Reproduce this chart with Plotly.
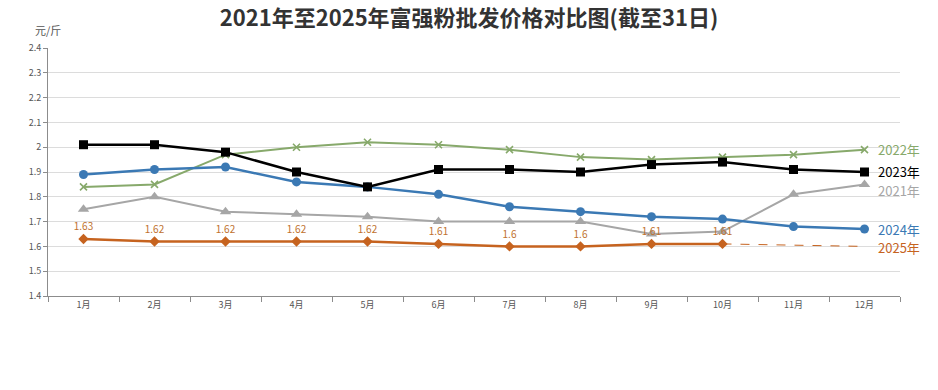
import plotly.graph_objects as go

months = ["1月", "2月", "3月", "4月", "5月", "6月", "7月", "8月", "9月", "10月", "11月", "12月"]
y2021 = [1.75, 1.80, 1.74, 1.73, 1.72, 1.70, 1.70, 1.70, 1.65, 1.66, 1.81, 1.85]
y2022 = [1.84, 1.85, 1.97, 2.00, 2.02, 2.01, 1.99, 1.96, 1.95, 1.96, 1.97, 1.99]
y2023 = [2.01, 2.01, 1.98, 1.90, 1.84, 1.91, 1.91, 1.90, 1.93, 1.94, 1.91, 1.90]
y2024 = [1.89, 1.91, 1.92, 1.86, 1.84, 1.81, 1.76, 1.74, 1.72, 1.71, 1.68, 1.67]
y2025 = [1.63, 1.62, 1.62, 1.62, 1.62, 1.61, 1.60, 1.60, 1.61, 1.61]
y2025_ext_months = ["10月", "12月"]
y2025_ext = [1.61, 1.60]
labels2025 = ["1.63", "1.62", "1.62", "1.62", "1.62", "1.61", "1.6", "1.6", "1.61", "1.61"]
yticks = [1.4, 1.5, 1.6, 1.7, 1.8, 1.9, 2.0, 2.1, 2.2, 2.3, 2.4]

C21, C22, C23, C24, C25 = "#a6a6a6", "#87a96b", "#000000", "#3b79b4", "#c6631f"
FONT = "Noto Sans CJK SC"

fig = go.Figure()
fig.add_trace(go.Scatter(x=months, y=y2021, mode="lines+markers", name="2021年",
                         line=dict(color=C21, width=2),
                         marker=dict(symbol="triangle-up", size=10, color=C21)))
fig.add_trace(go.Scatter(x=months, y=y2022, mode="lines+markers", name="2022年",
                         line=dict(color=C22, width=2),
                         marker=dict(symbol="x-thin", size=7, color=C22,
                                     line=dict(color=C22, width=1.6))))
fig.add_trace(go.Scatter(x=y2025_ext_months, y=y2025_ext, mode="lines", name="2025年延伸",
                         line=dict(color=C25, width=1, dash="dash")))
fig.add_trace(go.Scatter(x=months[:len(y2025)], y=y2025, mode="lines+markers+text", name="2025年",
                         text=labels2025, textposition="top center",
                         textfont=dict(size=10, color="#c0722f", family=FONT),
                         line=dict(color=C25, width=2.5),
                         marker=dict(symbol="diamond", size=8, color=C25)))
fig.add_trace(go.Scatter(x=months, y=y2024, mode="lines+markers", name="2024年",
                         line=dict(color=C24, width=2.5),
                         marker=dict(symbol="circle", size=9, color=C24)))
fig.add_trace(go.Scatter(x=months, y=y2023, mode="lines+markers", name="2023年",
                         line=dict(color=C23, width=2.5),
                         marker=dict(symbol="square", size=9, color=C23)))

ends = [("2022年", y2022[-1], C22, 0), ("2023年", y2023[-1], C23, 1), ("2021年", y2021[-1], C21, -6),
        ("2024年", y2024[-1], C24, 0), ("2025年", y2025_ext[-1], C25, -1)]
annotations = []
for name, val, col, ys in ends:
    annotations.append(dict(x="12月", y=val, xref="x", yref="y", text=name, showarrow=False,
                            xanchor="left", xshift=11, yshift=ys,
                            font=dict(size=13, color=col, family=FONT)))
annotations.append(dict(x=0, y=1.073, xref="paper", yref="paper", text="元/斤", showarrow=False,
                        xanchor="center", yanchor="middle", font=dict(size=11, color="#555555", family=FONT)))

fig.update_layout(
    width=938, height=390,
    margin=dict(l=48, r=38, t=48, b=94),
    paper_bgcolor="white", plot_bgcolor="white",
    showlegend=False,
    font=dict(family=FONT, color="#555555"),
    title=dict(text="<b>2021年至2025年富强粉批发价格对比图(截至31日)</b>", x=0.5, xanchor="center",
               y=0.952, yanchor="middle",
               font=dict(size=22, color="#333333", family=FONT)),
    annotations=annotations,
    xaxis=dict(type="category", categoryorder="array", categoryarray=months,
               showgrid=False, showline=True, linecolor="#8c8c8c", linewidth=1,
               ticks="outside", tickson="boundaries", ticklen=5, tickcolor="#8c8c8c",
               tickfont=dict(size=9, color="#555555"), range=[-0.5, 11.5]),
    yaxis=dict(range=[1.4, 2.4], tickvals=yticks, ticktext=[f"{v:g}" for v in yticks],
               showgrid=True, gridcolor="#dcdcdc", gridwidth=1,
               showline=True, linecolor="#8c8c8c", linewidth=1,
               ticks="outside", ticklen=4, tickcolor="#8c8c8c",
               tickfont=dict(size=9, color="#555555"), zeroline=False),
)

fig.write_html("out.html", config={"displayModeBar": False},
               post_script="document.body.style.margin='0';")
